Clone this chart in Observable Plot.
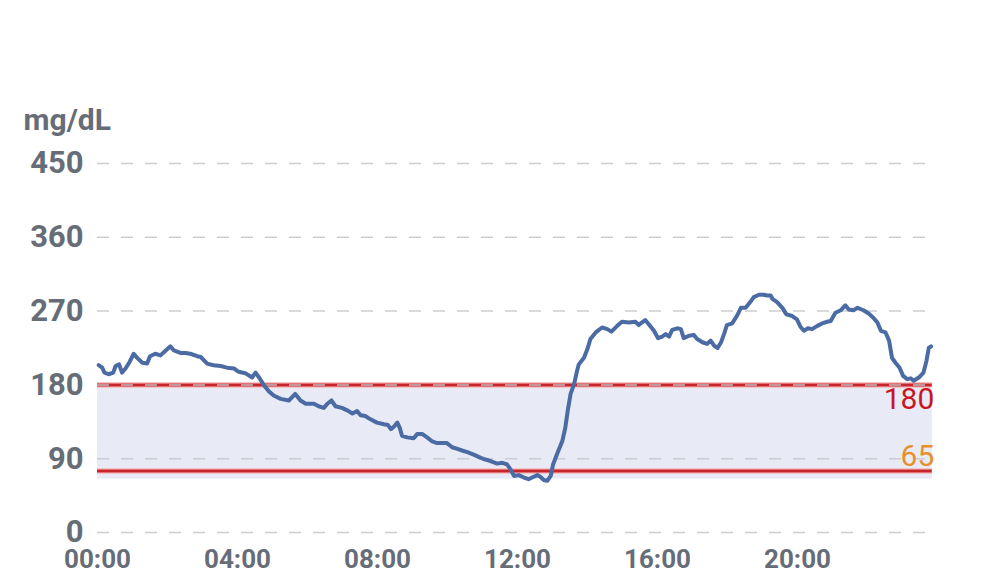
<!DOCTYPE html>
<html><head><meta charset="utf-8">
<script src="https://cdn.jsdelivr.net/npm/d3@7"></script>
<script src="https://cdn.jsdelivr.net/npm/@observablehq/plot@0.6"></script>
<style>
html,body{margin:0;padding:0;background:#fff;}
#chart{width:988px;height:588px;}
#chart svg{font-family:Roboto, "Noto Sans", sans-serif;}
</style></head><body><div id="chart"></div>
<script>
// minutes after midnight
const minutes = [2,8,12,19,27,31,37,42,48,55,62,68,77,85,90,99,108,117,125,131,142,151,159,171,177,188,199,211,222,234,242,254,265,271,277,285,294,302,314,328,339,348,357,365,
371,379,388,394,401,408,419,428,437,445,451,459,468,479,491,498,503,508,514,518,522,531,542,548,557,565,574,582,599,608,617,625,634,645,657,665,674,685,694,702,708,714,
722,731,739,745,754,759,765,771,777,781,788,797,802,806,811,817,822,825,834,840,845,854,865,874,881,891,899,911,922,928,933,939,945,954,961,968,974,980,985,994,1000,1005,1014,1022,1028,1037,1045,1051,1057,1063,1069,
1074,1079,1088,1096,1103,1111,1119,1125,1134,1142,1148,1154,1157,1165,1174,1181,1191,1199,1205,1211,1218,1225,1234,1242,1251,1257,1265,1274,1282,1288,1296,1303,1313,1322,1330,1337,1343,1351,1357,1362,1368,1375,1381,1388,1394,1399,1408,1416,1421,1425,1429];
// glucose, mg/dL
const glucose = [204,201,195,193,195,203,205,195,200,208,218,213,207,206,215,218,216,222,227,222,219,219,218,215,214,206,204,203,201,200,196,194,189,195,189,180,172,167,163,161,169,161,157,157,
157,154,152,157,161,154,152,149,145,148,143,142,138,134,132,131,126,129,134,128,118,116,115,120,120,116,111,109,109,104,102,100,98,95,91,89,87,84,85,83,77,69,
70,67,65,67,70,68,64,63,69,83,96,112,128,148,169,181,197,205,213,224,236,244,250,248,245,252,257,256,257,253,256,259,254,246,237,239,242,239,247,249,248,237,240,241,236,232,230,234,228,225,232,
242,253,255,264,274,274,281,287,290,290,289,289,285,281,274,266,264,260,251,246,249,248,252,255,257,258,268,271,277,272,271,274,271,267,262,256,246,244,234,213,207,201,191,187,188,185,189,195,209,225,227];

const yTicks = [0, 90, 180, 270, 360, 450];
const xTicks = [0, 240, 480, 720, 960, 1200];
const xTickLabels = ["00:00", "04:00", "08:00", "12:00", "16:00", "20:00"];
const unitLabel = "mg/dL";
const rangeLow = 65;
const rangeHigh = 180;
const limitLines = [180, 75];
const rangeEnd = 1431;
const highLabel = "180";
const lowLabel = "65";

const data = minutes.map((m, i) => ({m, g: glucose[i]}));

const grey = "#676d76";
const chart = Plot.plot({
  width: 988,
  height: 588,
  marginLeft: 97,
  marginRight: 51,
  marginTop: 163,
  marginBottom: 56,
  style: {background: "#fff", color: grey, fontFamily: "Roboto, sans-serif"},
  x: {domain: [0, 1440]},
  y: {domain: [0, 450]},
  marks: [
    Plot.rect([{x1: 0, x2: rangeEnd, y1: rangeLow, y2: rangeHigh}], {x1: "x1", x2: "x2", y1: "y1", y2: "y2", fill: "#e8eaf6"}),
    Plot.ruleY(limitLines, {x1: 0, x2: rangeEnd, stroke: "#f5c4c4", strokeWidth: 6}),
    Plot.ruleY(limitLines, {x1: 0, x2: rangeEnd, stroke: "#c8242b", strokeWidth: 3}),
    Plot.ruleY(yTicks, {x1: 0, x2: 1440, stroke: "#c6c9ce", strokeWidth: 1.5, strokeDasharray: "12,12", strokeOpacity: 0.9}),
    Plot.line(data, {x: "m", y: "g", stroke: "#4a6ba3", strokeWidth: 4, strokeLinejoin: "round", strokeLinecap: "round"}),
    Plot.axisY(yTicks, {tickSize: 0, tickPadding: 14, fontSize: 31, fontWeight: "bold", label: null, fill: grey}),
    Plot.axisX(xTicks, {tickSize: 0, tickPadding: 17, fontSize: 26, fontWeight: "bold", label: null, fill: grey,
      tickFormat: d => xTickLabels[xTicks.indexOf(d)]}),
    Plot.text([unitLabel], {frameAnchor: "top-left", dx: -74, dy: -34, textAnchor: "start", lineAnchor: "bottom", fontSize: 30, fontWeight: "bold", fill: grey}),
    Plot.text([highLabel], {x: rangeEnd, y: rangeHigh, text: d => d, textAnchor: "end", dx: 2, dy: 14, fontSize: 30, fill: "#c8161f"}),
    Plot.text([lowLabel], {x: rangeEnd, y: rangeLow, text: d => d, textAnchor: "end", dx: 2, dy: -23, fontSize: 30, fill: "#e8902a"})
  ]
});
document.getElementById("chart").appendChild(chart);
</script></body></html>
